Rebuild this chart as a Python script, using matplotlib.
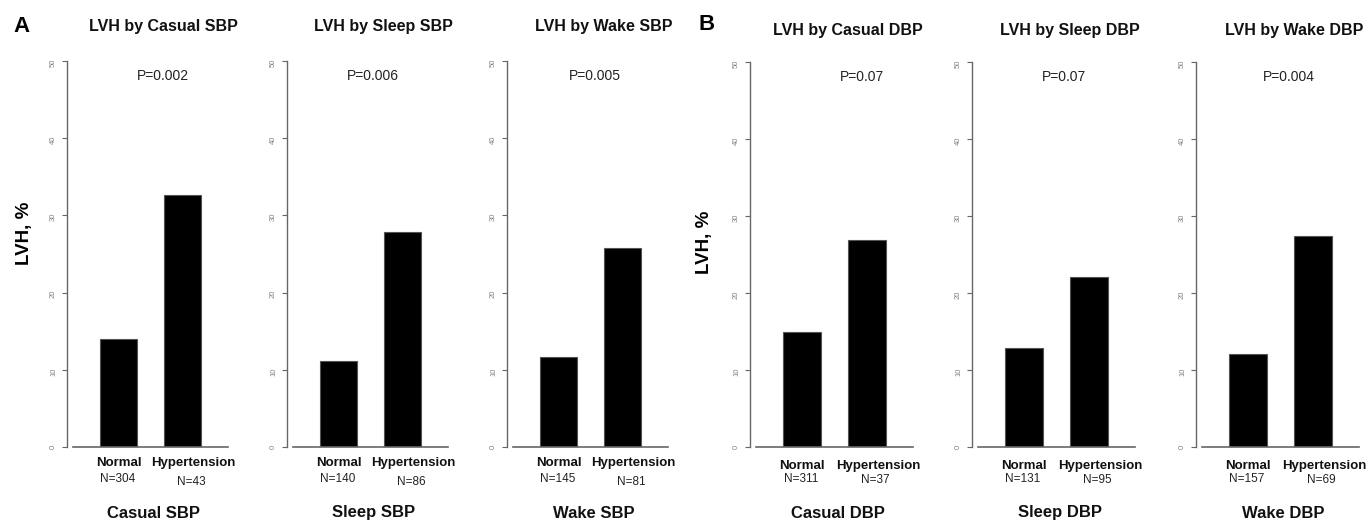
import matplotlib
matplotlib.use("Agg")
import matplotlib.pyplot as plt

plt.rcParams['font.family'] = ['Liberation Sans', 'DejaVu Sans']

# values
categories   = ["Normal", "Hypertension"]
panel_titles = ["LVH by Casual SBP", "LVH by Sleep SBP", "LVH by Wake SBP",
                "LVH by Casual DBP", "LVH by Sleep DBP", "LVH by Wake DBP"]
group_labels = ["Casual SBP", "Sleep SBP", "Wake SBP",
                "Casual DBP", "Sleep DBP", "Wake DBP"]
lvh_normal   = [14.0, 11.1, 11.7, 15.0, 12.9, 12.1]
lvh_htn      = [32.6, 27.9, 25.8, 26.9, 22.1, 27.4]
n_normal     = [304, 140, 145, 311, 131, 157]
n_htn        = [43, 86, 81, 37, 95, 69]
p_values     = ["0.002", "0.006", "0.005", "0.07", "0.07", "0.004"]
y_ticks      = [0, 10, 20, 30, 40, 50]

W, H = 1366, 523
fig = plt.figure(figsize=(W / 100, H / 100), dpi=100)

# layout in pixels: left edge of baseline, width, top (value 50), bottom (value 0)
panel_left = [73, 293, 513, 756, 978, 1202]
panel_w    = [155, 155, 155, 157, 157, 157]
panel_top  = [61, 61, 61, 62, 62, 62]
panel_bot  = [447, 447, 447, 447, 447, 447]
p_text_x   = [1.70, 1.53, 1.57, 1.92, 1.62, 1.63]

grey = "#666666"

for i in range(6):
    l, w, t, b = panel_left[i], panel_w[i], panel_top[i], panel_bot[i]
    ax = fig.add_axes([l / W, 1 - b / H, w / W, (b - t) / H])
    ax.bar([1, 2], [lvh_normal[i], lvh_htn[i]], width=0.58,
           color="black", edgecolor="#555555", linewidth=0.8)
    ax.set_xlim(0.29, 2.71)
    ax.set_ylim(0, 50)
    ax.set_xticks([])
    ax.set_yticks(y_ticks)
    ax.tick_params(axis="y", length=3.5, width=0.8, color=grey, pad=4,
                   labelsize=5.5, labelrotation=90, labelcolor="#808080")
    for lab in ax.get_yticklabels():
        lab.set_va("center")
    for s in ["top", "right"]:
        ax.spines[s].set_visible(False)
    ax.spines["left"].set_position(("outward", 4))
    ax.spines["left"].set_color(grey)
    ax.spines["bottom"].set_color(grey)
    ax.spines["left"].set_linewidth(1.0)
    ax.spines["bottom"].set_linewidth(1.2)

    tr = ax.get_xaxis_transform()
    frac = lambda px: (b - px) / (b - t)
    cat_y = 463 if i < 3 else 466
    ax.text(1.0, frac(cat_y), categories[0], transform=tr, ha="center", va="center",
            fontsize=9.5, fontweight="bold", color="#111111")
    ax.text(2.17, frac(cat_y), categories[1], transform=tr, ha="center", va="center",
            fontsize=9.5, fontweight="bold", color="#111111")
    ax.text(0.98, frac(479), "N=%d" % n_normal[i], transform=tr, ha="center", va="center",
            fontsize=8.5, color="#222222")
    ax.text(2.13, frac(482 if i < 3 else 480), "N=%d" % n_htn[i], transform=tr,
            ha="center", va="center", fontsize=8.5, color="#222222")
    ax.text(0.52, frac(513), group_labels[i], transform=ax.transAxes, ha="center",
            va="center", fontsize=12, fontweight="bold", color="#111111")
    ax.text(0.585, frac(27 if i < 3 else 30), panel_titles[i], transform=ax.transAxes,
            ha="center", va="center", fontsize=11.5, fontweight="bold", color="#111111",
            clip_on=False)
    ax.text(p_text_x[i], 48.0, "P=" + p_values[i], ha="center", va="center",
            fontsize=10, color="#222222")

fig.text(25 / W, 1 - 233 / H, "LVH, %", rotation=90, ha="center", va="center",
         fontsize=13.5, fontweight="bold")
fig.text(705 / W, 1 - 242 / H, "LVH, %", rotation=90, ha="center", va="center",
         fontsize=13.5, fontweight="bold")
fig.text(22 / W, 1 - 26 / H, "A", ha="center", va="center", fontsize=16, fontweight="bold")
fig.text(707 / W, 1 - 25 / H, "B", ha="center", va="center", fontsize=16, fontweight="bold")

fig.savefig("out.png", dpi=100, facecolor="white")
